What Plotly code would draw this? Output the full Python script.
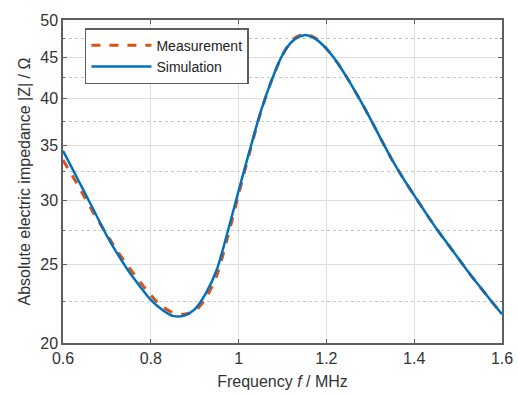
import plotly.graph_objects as go

freq = [0.600, 0.625, 0.650, 0.675, 0.700, 0.725, 0.750, 0.775, 0.800, 0.825,
        0.850, 0.875, 0.900, 0.925, 0.950, 0.975, 1.000, 1.025, 1.050, 1.075,
        1.100, 1.125, 1.150, 1.175, 1.200, 1.225, 1.250, 1.275, 1.300, 1.325,
        1.350, 1.375, 1.400, 1.425, 1.450, 1.475, 1.500, 1.525, 1.550, 1.575, 1.600]

simulation = [34.5, 32.5, 30.6, 28.8, 27.1, 25.7, 24.5, 23.5, 22.6, 22.0,
              21.6, 21.6, 22.0, 23.0, 24.6, 27.4, 30.8, 34.5, 38.5, 42.1,
              45.3, 47.2, 47.9, 47.4, 46.1, 44.3, 42.2, 40.0, 37.8, 35.6,
              33.6, 31.9, 30.4, 29.0, 27.7, 26.55, 25.45, 24.4, 23.45, 22.55, 21.7]

measurement = [33.6, 31.9, 30.2, 28.6, 27.2, 25.9, 24.8, 23.8, 22.9, 22.2,
               21.8, 21.7, 21.9, 22.7, 24.2, 27.0, 30.5, 34.3, 38.4, 42.1,
               45.3, 47.4, 48.0, 47.5, 46.1, 44.3, 42.2, 40.0, 37.8, 35.6,
               33.6, 31.9, 30.4, 29.0, 27.7, 26.55, 25.45, 24.4, 23.45, 22.55, 21.7]

y_ticks = [20, 25, 30, 35, 40, 45, 50]
y_minor = [22.5, 27.5, 32.5, 37.5, 42.5, 47.5]
x_ticks = [0.6, 0.8, 1.0, 1.2, 1.4, 1.6]
x_labels = ["0.6", "0.8", "1", "1.2", "1.4", "1.6"]

FONT = "Liberation Sans, Arial, sans-serif"
AXCOL = "#5f5f5f"

fig = go.Figure()
fig.add_trace(go.Scatter(x=freq, y=measurement, mode="lines", name="Measurement",
                         line=dict(color="#D95319", width=3, dash="dash", shape="spline", smoothing=0.8)))
fig.add_trace(go.Scatter(x=freq, y=simulation, mode="lines", name="Simulation",
                         line=dict(color="#0072BD", width=2.5, shape="spline", smoothing=0.8)))

fig.update_layout(
    width=518, height=394,
    margin=dict(l=63, r=16, t=20, b=51),
    paper_bgcolor="white", plot_bgcolor="white",
    font=dict(family=FONT, size=16, color="#333333"),
    showlegend=True,
    legend=dict(x=0.05, y=0.975, xanchor="left", yanchor="top",
                bgcolor="white", bordercolor=AXCOL, borderwidth=1.5,
                font=dict(size=14, color="#222222"),
                tracegroupgap=0, itemwidth=60),
)

fig.update_xaxes(
    range=[0.6, 1.6], tickvals=x_ticks, ticktext=x_labels, automargin=False,
    showgrid=True, gridcolor="#e3dede", gridwidth=1,
    showline=True, linecolor=AXCOL, linewidth=1.5, mirror="ticks",
    ticks="inside", ticklen=4, tickcolor=AXCOL,
    title=dict(text="Frequency <i>f</i> / MHz", font=dict(size=16, color="#333333"), standoff=10),
    zeroline=False,
)
fig.update_yaxes(
    type="log", range=[1.30103, 1.69897], tickvals=y_ticks, automargin=False,
    ticktext=[str(v) for v in y_ticks],
    showgrid=True, gridcolor="#e3dede", gridwidth=1,
    showline=True, linecolor=AXCOL, linewidth=1.5, mirror="ticks",
    ticks="inside", ticklen=4, tickcolor=AXCOL,
    minor=dict(tickmode="array", tickvals=y_minor, showgrid=True,
               gridcolor="#c8c8c8", griddash="dot", gridwidth=1,
               ticks="inside", ticklen=2, tickcolor=AXCOL),
    title=dict(text="Absolute electric impedance |Z| / Ω", font=dict(size=16, color="#333333"), standoff=6),
    zeroline=False,
)

fig.write_html("out.html")
